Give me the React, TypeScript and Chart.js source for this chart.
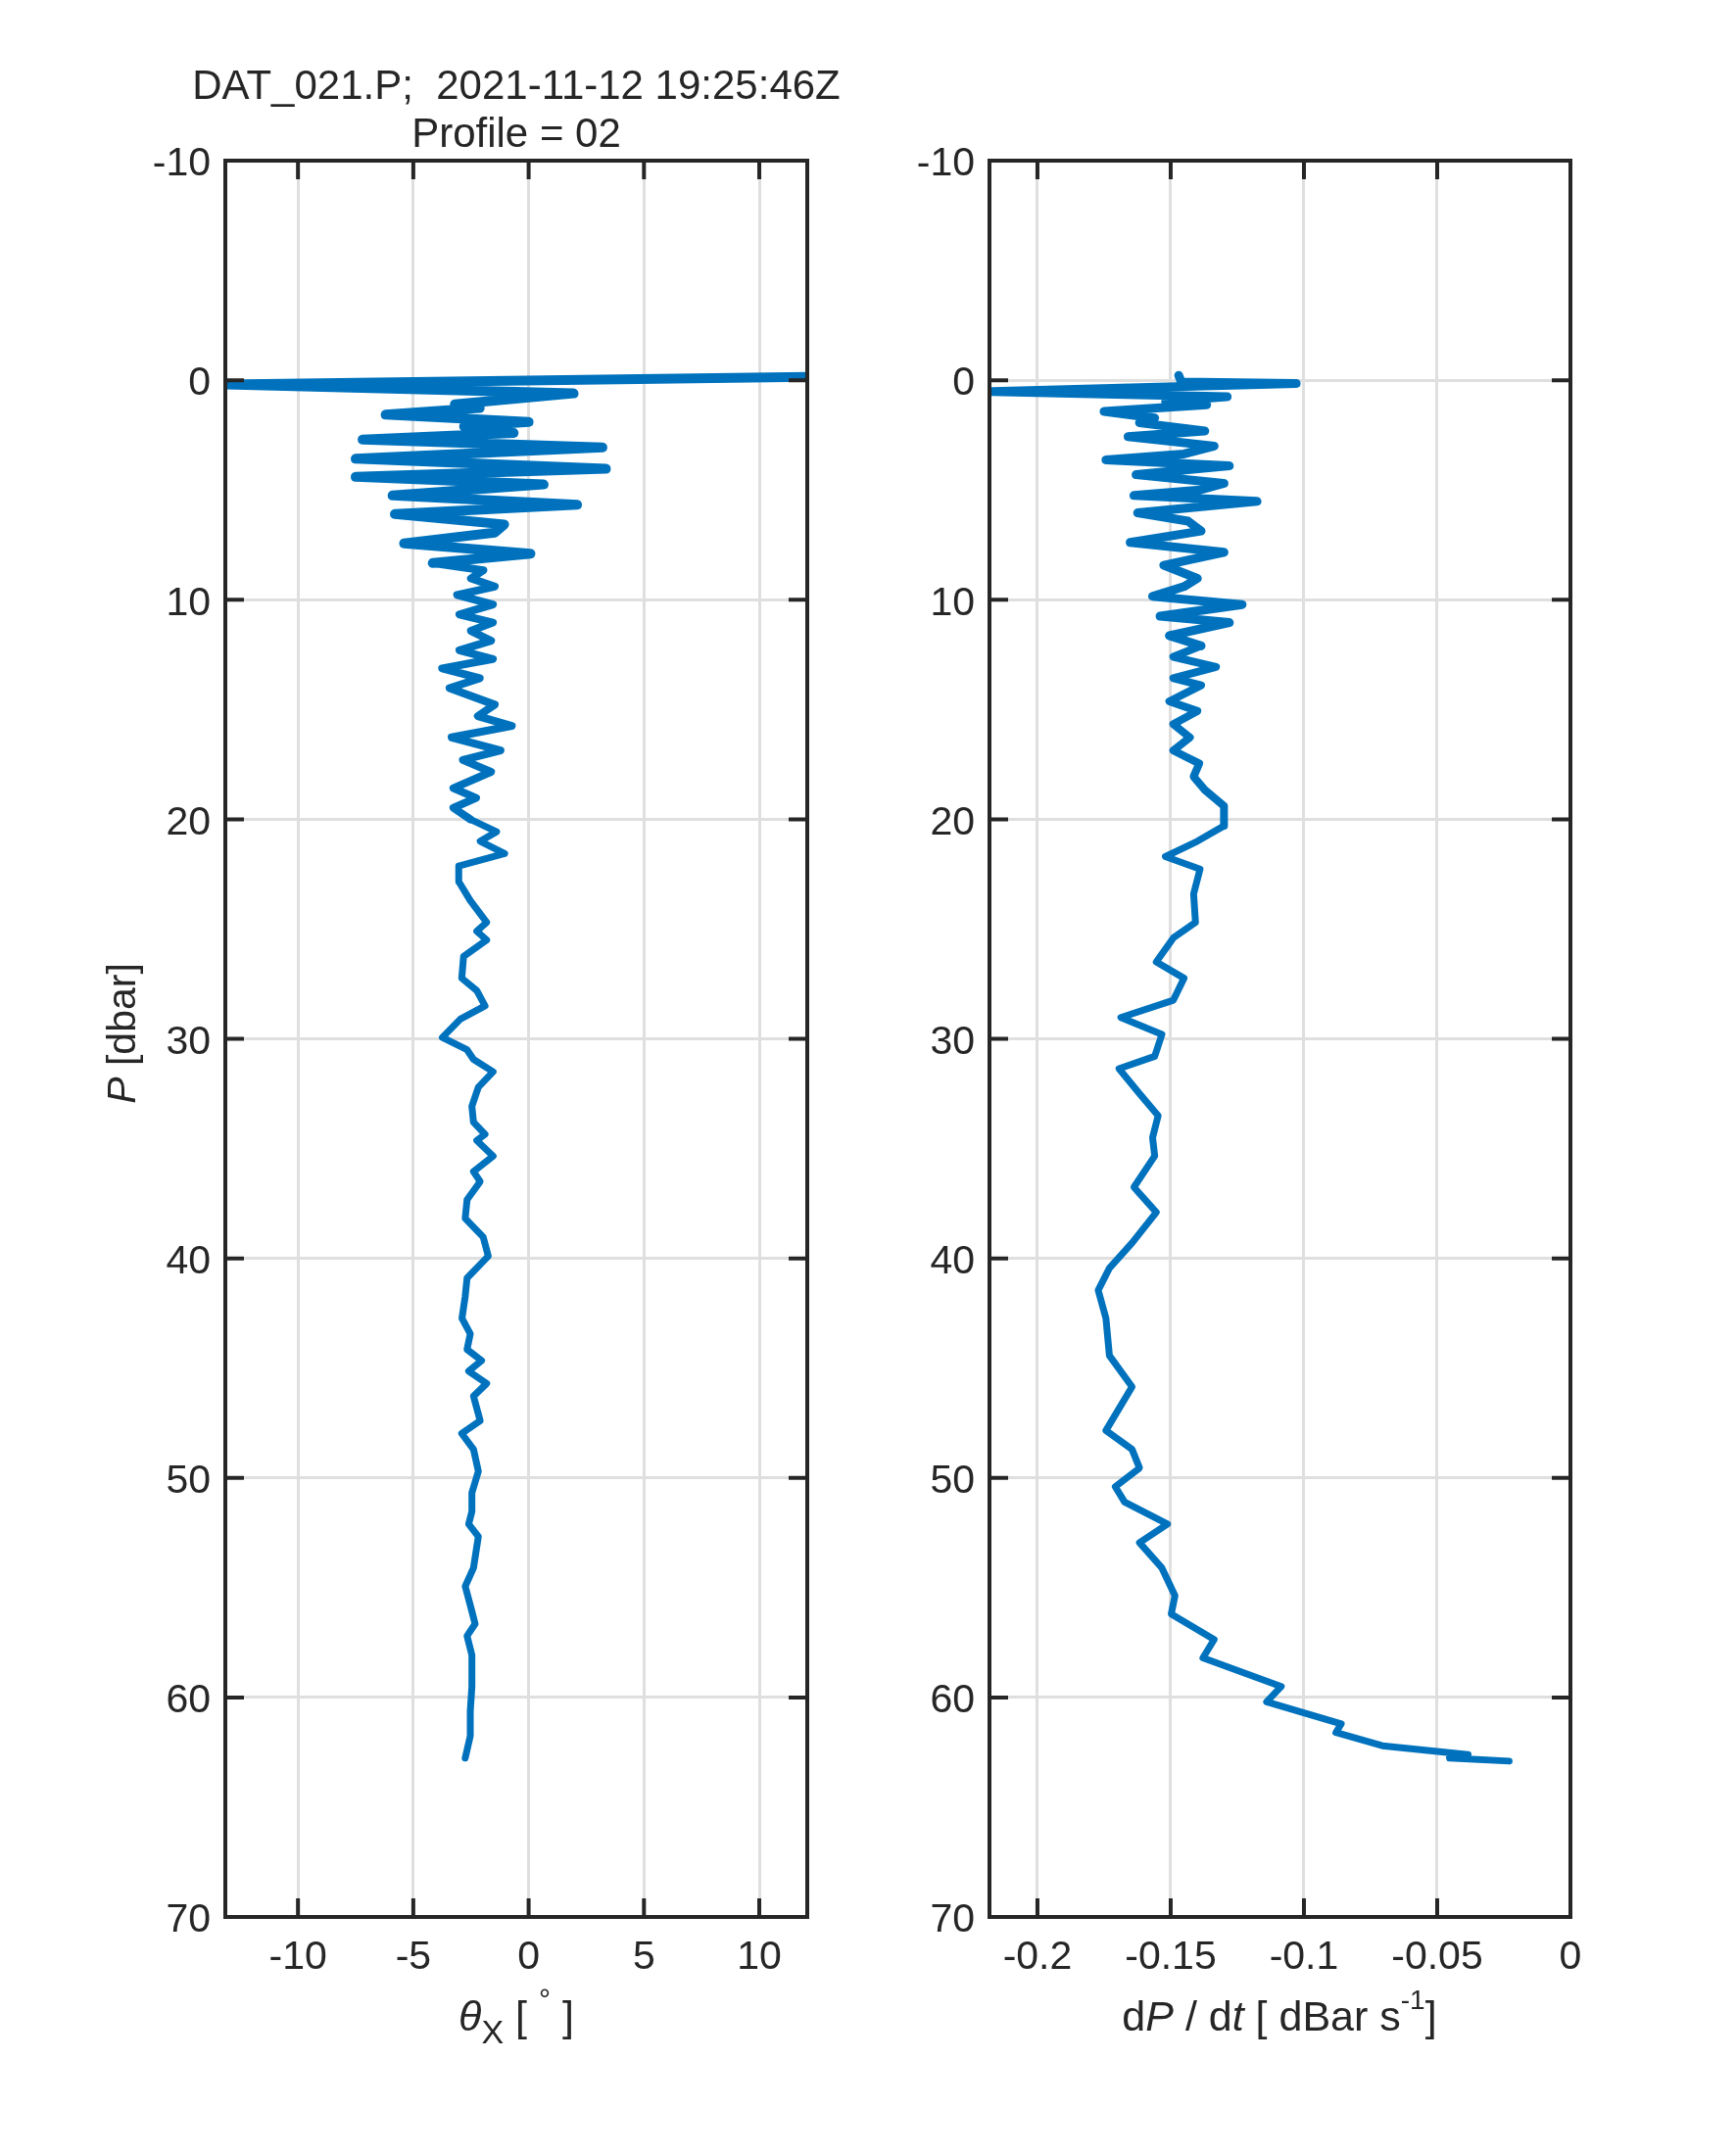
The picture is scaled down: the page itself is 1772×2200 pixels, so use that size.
import React, { useEffect, useRef } from "react";
import { Chart, registerables } from "chart.js";

Chart.register(...registerables);

const FONT = "'Liberation Sans', Arial, Helvetica, sans-serif";
const INK = "#262626";
const LINE_COLOR = "#0072BD";
const GRID_COLOR = "#dfdfdf";

// Tick values
const pressureTicks = [-10, 0, 10, 20, 30, 40, 50, 60, 70];
const thetaTicks = [-10, -5, 0, 5, 10];
const dpdtTicks = [-0.2, -0.15, -0.1, -0.05, 0];

// Left profile: theta_X [deg] vs P [dbar]
const thetaP = [
  -0.15, 0.2, 0.6, 1.1, 1.27, 1.57, 1.9, 2.1, 2.4, 2.7, 3.06, 3.58, 4.03, 4.4, 4.75,
  5.25, 5.67, 6.1, 6.57, 6.94, 7.43, 7.9, 8.33, 8.66, 9.03, 9.4, 9.78, 10.22, 10.67,
  11.04, 11.42, 11.87, 12.3, 12.7, 13.13, 13.58, 14.03, 14.78, 15.3, 15.75, 16.27,
  16.87, 17.3, 17.84, 18.58, 19.03, 19.48, 20.0, 20.57, 21.0, 21.56, 22.13, 22.84,
  23.7, 24.7, 25.1, 25.5, 26.25, 27.24, 27.8, 28.5, 29.1, 29.94, 30.5, 30.94, 31.5,
  32.2, 33.07, 33.8, 34.35, 34.63, 35.34, 36.05, 36.5, 37.33, 38.18, 39.03, 39.9,
  40.9, 41.73, 42.73, 43.44, 44.15, 44.66, 45.14, 45.7, 46.28, 47.4, 47.98, 48.7,
  49.7, 50.68, 51.53, 52.1, 52.67, 54.1, 54.94, 56.08, 56.65, 57.2, 58.07, 59.5,
  60.63, 61.76, 62.76,
];
const thetaX = [
  12.07, -13.1, 1.95, -3.2, -2.12, -6.2, 0.0, -2.8, -0.65, -7.2, 3.2, -7.5, 3.35, -7.5, 0.65,
  -5.9, 2.1, -5.8, -1.06, -1.47, -5.4, 0.08, -4.16, -1.96, -2.5, -1.47, -3.1, -1.55, -3.0,
  -1.55, -2.5, -1.63, -3.0, -1.55, -3.75, -2.12, -3.43, -1.47, -2.2, -0.73, -3.34,
  -1.22, -2.85, -1.63, -3.26, -2.28, -3.26, -2.53, -1.39, -2.1, -1.04, -3.03, -3.03,
  -2.53, -1.82, -2.25, -1.82, -2.82, -2.9, -2.25, -1.89, -2.96, -3.74, -2.67, -2.39, -1.54,
  -2.18, -2.46, -2.39, -1.89, -2.25, -1.54, -2.39, -2.1, -2.67, -2.75, -1.97, -1.75,
  -2.67, -2.75, -2.89, -2.53, -2.67, -2.04, -2.6, -1.82, -2.39, -2.1, -2.9, -2.39,
  -2.18, -2.46, -2.46, -2.6, -2.18, -2.39, -2.75, -2.46, -2.32, -2.67, -2.46, -2.46,
  -2.53, -2.53, -2.75,
];

// Right profile: dP/dt [dBar/s] vs P [dbar]
const dpdtP = [
  -0.22, 0.08, 0.15, 0.52, 0.75, 0.97, 1.12, 1.42, 1.72, 1.94, 2.31, 2.57, 3.0, 3.36, 3.63, 3.9,
  4.3, 4.7, 5.0, 5.25, 5.52, 6.04, 6.42, 6.87, 7.39, 7.84, 8.43, 9.03, 9.4, 9.85, 10.22,
  10.75, 11.04, 11.64, 12.1, 12.6, 13.06, 13.58, 13.9, 14.63, 15.07, 15.67, 16.27,
  16.87, 17.46, 18.06, 18.66, 19.4, 20.3, 21.0, 21.7, 22.27, 23.4, 24.7, 25.4, 26.5,
  27.24, 28.24, 29.03, 29.8, 30.8, 31.36, 32.5, 33.5, 34.5, 35.34, 36.76, 37.9, 39.3,
  40.45, 41.45, 42.73, 44.43, 45.85, 47.84, 48.7, 49.55, 50.4, 51.1, 52.1, 52.95, 54.1,
  55.37, 56.2, 57.36, 58.2, 59.5, 60.2, 61.2, 61.6, 62.2, 62.6, 62.76, 62.9,
];
const dpdtV = [
  -0.147, -0.146, -0.1029, -0.217, -0.1288, -0.1519, -0.1365, -0.175, -0.156, -0.1617, -0.1372,
  -0.166, -0.1337, -0.145, -0.1743, -0.128, -0.163, -0.13, -0.139, -0.1638, -0.1176,
  -0.1624, -0.1435, -0.1386, -0.1652, -0.13, -0.1526, -0.14, -0.145, -0.1568, -0.1232,
  -0.154, -0.128, -0.1505, -0.1386, -0.149, -0.133, -0.149, -0.1386, -0.1505, -0.14,
  -0.149, -0.1428, -0.149, -0.1393, -0.1414, -0.1372, -0.13, -0.13, -0.14, -0.152,
  -0.139, -0.1414, -0.1407, -0.149, -0.1554, -0.145, -0.149, -0.1687, -0.1533, -0.156,
  -0.1694, -0.1617, -0.1547, -0.1568, -0.156, -0.1638, -0.1554, -0.1645, -0.173,
  -0.1772, -0.1743, -0.173, -0.1645, -0.1743, -0.1645, -0.1617, -0.1708, -0.1673,
  -0.1512, -0.1617, -0.1533, -0.1484, -0.1498, -0.1337, -0.1379, -0.1085, -0.114,
  -0.086, -0.088, -0.0706, -0.0384, -0.0454, -0.023,
];

// Stroke widths by depth band [upper-limit P, width]
const thetaWidths: [number, number][] = [[8.6, 10], [20.5, 8], [100, 7]];
const dpdtWidths: [number, number][] = [[12.5, 9], [20.5, 8], [100, 7]];

const AREA_TOP = 164;
const AREA_BOTTOM = 1957;
const CANVAS_H = 2200;
const X_AXIS_H = 100;

const boxPlugin = {
  id: "matlabBox",
  afterDatasetsDraw(chart: any) {
    const { ctx, chartArea: a, scales } = chart;
    const tl = 19;
    ctx.save();
    ctx.strokeStyle = INK;
    ctx.lineWidth = 4;
    ctx.lineCap = "butt";
    ctx.beginPath();
    for (const t of scales.x.ticks) {
      const px = scales.x.getPixelForValue(t.value);
      ctx.moveTo(px, a.bottom);
      ctx.lineTo(px, a.bottom - tl);
      ctx.moveTo(px, a.top);
      ctx.lineTo(px, a.top + tl);
    }
    for (const t of scales.y.ticks) {
      const py = scales.y.getPixelForValue(t.value);
      ctx.moveTo(a.left, py);
      ctx.lineTo(a.left + tl, py);
      ctx.moveTo(a.right, py);
      ctx.lineTo(a.right - tl, py);
    }
    ctx.stroke();
    ctx.strokeRect(a.left, a.top, a.right - a.left, a.bottom - a.top);
    ctx.restore();
  },
};

type PanelProps = {
  left: number;
  width: number;
  yAxisWidth: number;
  padRight: number;
  pressures: number[];
  values: number[];
  widths: [number, number][];
  xMin: number;
  xMax: number;
  xTicks: number[];
};

function Panel(props: PanelProps) {
  const ref = useRef<HTMLCanvasElement | null>(null);
  useEffect(() => {
    if (!ref.current) return;
    const pts = props.pressures.map((p, i) => ({ x: props.values[i], y: p }));
    const tickFont = { family: FONT, size: 41 };
    const widthFor = (c: any) => {
      const p = Math.max(props.pressures[c.p0DataIndex], props.pressures[c.p1DataIndex]);
      for (const [lim, w] of props.widths) if (p < lim) return w;
      return 7;
    };
    const chart = new Chart(ref.current, {
      type: "scatter",
      data: {
        datasets: [
          {
            data: pts,
            showLine: true,
            borderColor: LINE_COLOR,
            backgroundColor: LINE_COLOR,
            borderWidth: 7,
            pointRadius: 0,
            fill: false,
            borderJoinStyle: "round",
            borderCapStyle: "round",
            segment: { borderWidth: widthFor },
          } as any,
        ],
      },
      options: {
        animation: false,
        responsive: false,
        devicePixelRatio: 1,
        layout: {
          padding: {
            left: 0,
            top: AREA_TOP,
            right: props.padRight,
            bottom: CANVAS_H - AREA_BOTTOM - X_AXIS_H,
          },
        },
        plugins: {
          legend: { display: false },
          tooltip: { enabled: false },
          title: { display: false },
        },
        scales: {
          x: {
            type: "linear",
            min: props.xMin,
            max: props.xMax,
            afterBuildTicks: (s: any) => {
              s.ticks = props.xTicks.map((v) => ({ value: v }));
            },
            afterFit: (s: any) => {
              s.height = X_AXIS_H;
            },
            grid: { color: GRID_COLOR, lineWidth: 3, drawTicks: false },
            border: { display: false },
            ticks: {
              autoSkip: false,
              maxRotation: 0,
              minRotation: 0,
              padding: 17,
              color: INK,
              font: tickFont,
              callback: (v: any) => String(v),
            },
          },
          y: {
            type: "linear",
            reverse: true,
            min: -10,
            max: 70,
            afterBuildTicks: (s: any) => {
              s.ticks = pressureTicks.map((v) => ({ value: v }));
            },
            afterFit: (s: any) => {
              s.width = props.yAxisWidth;
            },
            grid: { color: GRID_COLOR, lineWidth: 3, drawTicks: false },
            border: { display: false },
            ticks: {
              autoSkip: false,
              padding: 15,
              labelOffset: 4,
              color: INK,
              font: tickFont,
              callback: (v: any) => String(v),
            },
          },
        },
      } as any,
      plugins: [boxPlugin],
    });
    return () => chart.destroy();
  }, []);
  return (
    <canvas
      ref={ref}
      width={props.width}
      height={CANVAS_H}
      style={{
        position: "absolute",
        left: props.left,
        top: 0,
        width: props.width,
        height: CANVAS_H,
      }}
    />
  );
}

const textBase: React.CSSProperties = {
  position: "absolute",
  fontFamily: FONT,
  color: INK,
  whiteSpace: "pre",
  textAlign: "center",
};

export default function App() {
  return (
    <div
      style={{
        position: "absolute",
        left: 0,
        top: 0,
        width: 1772,
        height: 2200,
        background: "#ffffff",
        overflow: "hidden",
      }}
    >
      <Panel
        left={0}
        width={900}
        yAxisWidth={230}
        padRight={76}
        pressures={thetaP}
        values={thetaX}
        widths={thetaWidths}
        xMin={-13.15}
        xMax={12.08}
        xTicks={thetaTicks}
      />
      <Panel
        left={900}
        width={872}
        yAxisWidth={110}
        padRight={169}
        pressures={dpdtP}
        values={dpdtV}
        widths={dpdtWidths}
        xMin={-0.218}
        xMax={0}
        xTicks={dpdtTicks}
      />
      {/* Title */}
      <div
        style={{
          ...textBase,
          left: 527 - 450,
          top: 62,
          width: 900,
          fontSize: 42,
          lineHeight: "49px",
        }}
      >
        <div>{"DAT_021.P;  2021-11-12 19:25:46Z"}</div>
        <div>{"Profile = 02"}</div>
      </div>
      {/* Y label */}
      <div
        style={{
          ...textBase,
          left: 124 - 150,
          top: 1055 - 25,
          width: 300,
          height: 50,
          fontSize: 41,
          lineHeight: "50px",
          transform: "rotate(-90deg)",
        }}
      >
        <i>P</i>
        {" [dbar]"}
      </div>
      {/* X label left */}
      <div
        style={{
          ...textBase,
          left: 527 - 200,
          top: 2032,
          width: 400,
          fontSize: 43,
          lineHeight: "52px",
        }}
      >
        <i>θ</i>
        <span style={{ fontSize: 34, position: "relative", top: 13 }}>X</span>
        {" [ "}
        <span style={{ fontSize: 30, position: "relative", top: -22 }}>°</span>
        {" ]"}
      </div>
      {/* X label right */}
      <div
        style={{
          ...textBase,
          left: 1306 - 250,
          top: 2032,
          width: 500,
          fontSize: 43,
          lineHeight: "52px",
        }}
      >
        {"d"}
        <i>P</i>
        {" / d"}
        <i>t</i>
        {" [ dBar s"}
        <span style={{ fontSize: 28, position: "relative", top: -22 }}>-1</span>
        {"]"}
      </div>
    </div>
  );
}
